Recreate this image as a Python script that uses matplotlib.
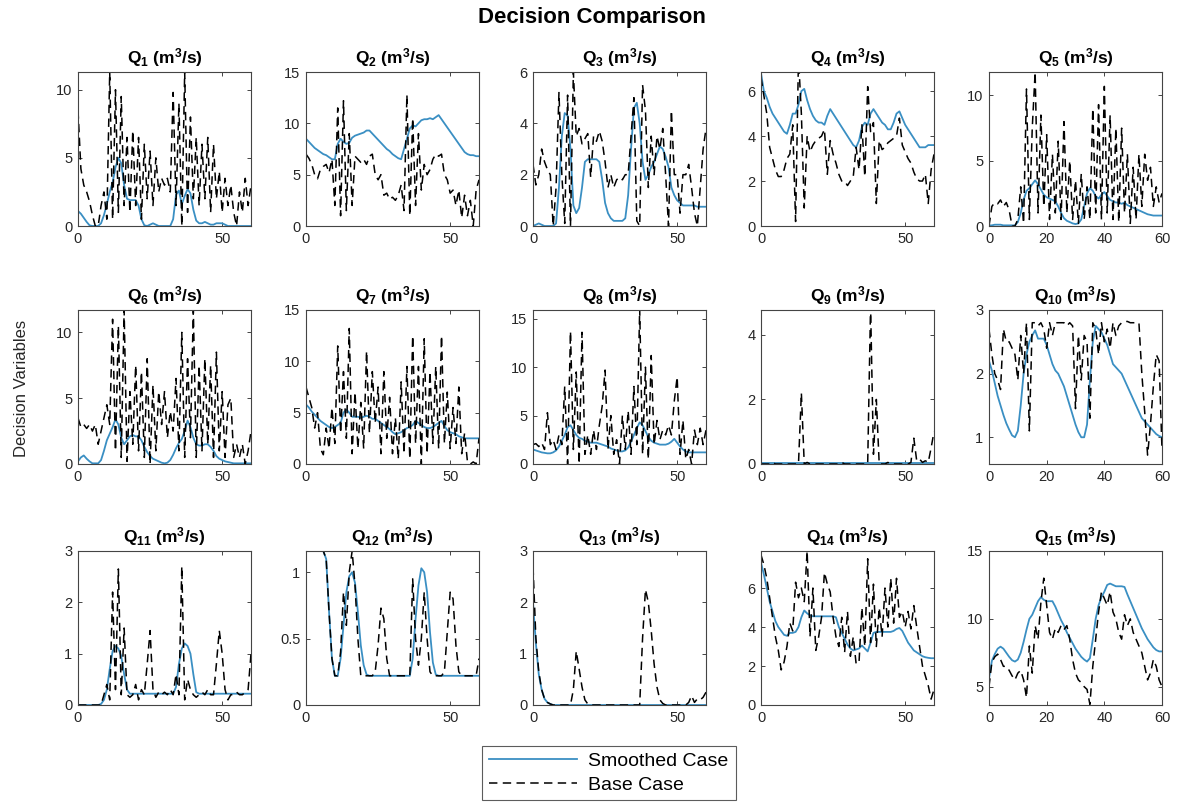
import matplotlib
matplotlib.use('Agg')
import matplotlib.pyplot as plt
from matplotlib.lines import Line2D

plt.rcParams['font.family'] = ['Liberation Sans', 'DejaVu Sans']
plt.rcParams['mathtext.fontset'] = 'custom'
plt.rcParams['mathtext.bf'] = 'Liberation Sans:bold'
plt.rcParams['mathtext.rm'] = 'Liberation Sans:bold'
plt.rcParams['mathtext.default'] = 'bf'

t = list(range(61))

# smoothed / base case decisions (t = 0..60)
q1_smooth = [1.1, 0.9, 0.6, 0.3, 0.05, 0, 0, 0, 0.2, 0.8,
             1.6, 2.5, 3.2, 4.3, 5.0, 4.6, 3.0, 2.0, 1.9, 1.9,
             1.9, 1.5, 0.5, 0.05, 0, 0.1, 0.2, 0.1, 0, 0,
             0, 0, 0, 0.5, 2.3, 2.6, 1.6, 2.2, 2.7, 2.4,
             1.2, 0.4, 0.2, 0.2, 0.3, 0.2, 0.1, 0.1, 0.2, 0.2,
             0.2, 0.1, 0, 0, 0, 0, 0, 0, 0, 0, 0]
q1_base = [8.5, 4.2, 3.0, 2.5, 1.8, 0.8, 0, 0, 1.5, 2.5,
           0.5, 11.3, 0.5, 10.0, 1.0, 9.5, 1.5, 6.5, 1.0, 7.0,
           1.5, 6.5, 0.5, 6.0, 2.0, 5.5, 1.5, 5.0, 2.5, 3.5,
           3.0, 3.5, 2.5, 9.8, 1.5, 9.0, 0, 11.3, 1.0, 8.0,
           2.0, 6.5, 1.5, 6.0, 2.0, 6.5, 1.0, 6.0, 2.0, 4.0,
           1.0, 3.5, 1.5, 3.0, 1.0, 0, 2.5, 1.0, 3.5, 1.5, 3.0]

q2_smooth = [8.5, 8.2, 7.9, 7.6, 7.4, 7.2, 7.0, 6.9, 6.7, 6.5,
             6.5, 8.0, 8.5, 8.2, 8.0, 8.1, 8.6, 8.8, 8.9, 9.0,
             9.1, 9.3, 9.3, 9.0, 8.7, 8.4, 8.1, 7.8, 7.5, 7.3,
             7.0, 6.8, 6.6, 6.5, 7.5, 8.5, 9.5, 9.8, 9.7, 10.0,
             10.3, 10.4, 10.4, 10.5, 10.4, 10.6, 10.8, 10.4, 10.0, 9.6,
             9.2, 8.8, 8.4, 8.0, 7.6, 7.2, 7.0, 6.9, 6.9, 6.8, 6.8]
q2_base = [7.0, 6.6, 6.0, 5.0, 4.6, 5.5, 5.8, 6.0, 5.2, 6.5,
           2.0, 11.5, 1.0, 12.2, 1.5, 9.0, 2.0, 6.8, 6.5, 6.2,
           6.5, 6.0, 6.8, 7.0, 5.0, 4.5, 5.0, 3.0, 3.2, 2.6,
           2.8, 2.5, 3.0, 4.0, 1.5, 12.8, 1.0, 10.5, 2.0, 9.0,
           3.5, 6.0, 5.0, 5.5, 6.5, 7.0, 6.8, 7.0, 5.0, 4.5,
           3.2, 3.5, 2.0, 3.5, 0.8, 3.0, 1.0, 2.5, 0.0, 3.5, 4.5]

q3_smooth = [0, 0.05, 0.1, 0.05, 0, 0, 0, 0, 0.1, 1.5,
             3.5, 4.4, 4.3, 3.0, 0.8, 0.5, 0.7, 1.5, 2.5, 2.6,
             2.6, 2.6, 2.6, 2.5, 1.8, 0.9, 0.5, 0.3, 0.2, 0.2,
             0.2, 0.2, 0.3, 1.2, 3.0, 4.6, 4.8, 4.0, 2.5, 1.8,
             2.0, 2.3, 2.5, 2.8, 3.1, 3.0, 2.7, 2.3, 1.5, 1.2,
             1.0, 0.9, 0.8, 0.8, 0.8, 0.8, 0.8, 0.75, 0.75, 0.75, 0.75]
q3_base = [2.4, 1.6, 2.0, 3.0, 2.5, 2.2, 2.0, 0.0, 1.5, 5.2,
           2.0, 0.1, 5.1, 0.0, 6.0, 3.5, 3.8, 3.2, 3.4, 3.6,
           1.9, 3.5, 3.3, 3.7, 3.3, 2.5, 1.5, 2.0, 1.5, 1.8,
           1.9, 1.8, 2.0, 2.0, 3.5, 5.0, 0.2, 0.0, 5.5, 4.5,
           1.5, 3.5, 2.0, 3.5, 3.0, 3.8, 2.0, 0.0, 4.5, 2.0,
           2.0, 0.5, 2.0, 2.0, 2.4, 1.5, 0.5, 0.0, 1.5, 3.0, 3.8]

q4_smooth = [6.8, 6.0, 5.7, 5.3, 5.0, 4.8, 4.6, 4.4, 4.2, 4.1,
             4.5, 5.0, 5.0, 5.4, 6.0, 6.1, 5.6, 5.2, 4.9, 4.7,
             4.6, 4.6, 4.5, 4.9, 5.2, 5.0, 4.8, 4.6, 4.4, 4.2,
             4.0, 3.8, 3.6, 3.5, 3.8, 4.4, 4.6, 4.5, 5.0, 5.2,
             5.0, 4.8, 4.6, 4.5, 4.3, 4.3, 4.6, 5.0, 5.1, 4.8,
             4.5, 4.3, 4.1, 3.9, 3.7, 3.5, 3.5, 3.5, 3.6, 3.6, 3.6]
q4_base = [6.6, 5.8, 5.0, 3.5, 3.0, 2.5, 2.2, 2.2, 2.5, 3.0,
           3.2, 4.5, 0.2, 7.5, 5.0, 0.8, 4.0, 3.3, 3.6, 3.8,
           3.9, 4.0, 4.3, 2.3, 3.8, 3.2, 2.8, 2.3, 2.0, 2.0,
           1.8, 2.0, 2.2, 3.5, 2.5, 4.5, 2.2, 6.2, 4.2, 4.6,
           1.0, 3.8, 3.4, 3.5, 3.7, 3.8, 3.9, 4.0, 4.8, 3.6,
           3.3, 3.0, 2.8, 2.4, 2.1, 2.0, 2.0, 2.3, 1.0, 2.5, 3.2]

q5_smooth = [0.05, 0.05, 0.1, 0.1, 0.1, 0.05, 0.05, 0.05, 0.05, 0.05,
             0.3, 1.0, 2.0, 2.7, 2.9, 3.2, 3.5, 3.2, 2.8, 2.4,
             2.2, 2.1, 2.0, 1.9, 1.5, 1.0, 0.6, 0.4, 0.3, 0.2,
             0.15, 0.2, 0.5, 1.5, 2.5, 2.9, 2.7, 2.3, 2.1, 2.4,
             2.6, 2.3, 2.0, 1.9, 1.8, 1.8, 1.7, 1.8, 1.6, 1.5,
             1.4, 1.3, 1.2, 1.1, 1.0, 0.9, 0.85, 0.8, 0.8, 0.8, 0.8]
q5_base = [0.0, 1.5, 1.8, 1.7, 2.0, 1.5, 1.8, 1.2, 0.0, 0.0,
           0.5, 3.0, 0.2, 10.5, 0.5, 7.5, 11.8, 1.0, 8.5, 1.5,
           7.0, 0.5, 5.5, 1.0, 6.5, 0.5, 8.0, 1.0, 5.0, 0.5,
           3.5, 0.2, 4.0, 0.5, 3.0, 0.5, 9.0, 1.0, 9.3, 0.5,
           10.7, 1.0, 8.5, 0.5, 7.5, 0.3, 7.5, 1.0, 5.5, 0.2,
           4.5, 0.5, 5.5, 1.5, 5.5, 3.5, 4.5, 1.5, 3.0, 1.8, 2.5]

q6_smooth = [0.2, 0.5, 0.65, 0.4, 0.2, 0.05, 0.05, 0.05, 0.3, 1.0,
             1.8, 2.3, 2.8, 3.4, 3.0, 2.0, 1.5, 1.8, 2.1, 2.2,
             2.1, 2.1, 1.8, 1.3, 0.9, 0.6, 0.4, 0.3, 0.2, 0.1,
             0.05, 0.1, 0.3, 0.7, 1.2, 1.6, 1.9, 2.5, 3.3, 2.8,
             2.0, 1.5, 1.4, 1.4, 1.5, 1.5, 1.3, 1.0, 0.6, 0.4,
             0.3, 0.2, 0.15, 0.1, 0.05, 0.05, 0.05, 0.05, 0.05, 0.05, 0.05]
q6_base = [3.5, 2.8, 3.0, 2.7, 3.0, 2.5, 3.0, 1.5, 2.5, 3.5,
           4.5, 3.0, 11.0, 1.0, 10.5, 0.5, 11.7, 0.2, 5.5, 1.5,
           7.5, 1.0, 7.0, 0.5, 8.0, 0.0, 6.0, 1.0, 5.5, 3.0,
           5.5, 2.0, 4.0, 2.5, 6.5, 1.0, 10.0, 0.5, 8.0, 2.0,
           11.7, 0.5, 7.5, 1.0, 8.0, 1.5, 7.5, 0.5, 8.5, 1.0,
           5.5, 0.5, 4.5, 5.0, 0.5, 1.5, 0.5, 1.5, 0.0, 1.0, 2.5]

q7_smooth = [5.8, 5.5, 5.1, 4.8, 4.5, 4.2, 4.0, 3.8, 3.6, 3.5,
             3.6, 3.8, 4.0, 5.0, 5.3, 5.0, 4.6, 4.6, 4.6, 4.5,
             4.6, 4.7, 4.6, 4.4, 4.4, 4.2, 4.0, 3.8, 3.6, 3.4,
             3.1, 2.9, 3.0, 3.1, 3.3, 3.5, 3.6, 3.8, 4.2, 4.0,
             3.8, 3.6, 3.5, 3.5, 3.6, 3.8, 4.0, 4.2, 3.7, 3.3,
             3.1, 3.0, 2.9, 2.7, 2.6, 2.5, 2.5, 2.5, 2.5, 2.5, 2.5]
q7_base = [7.5, 6.5, 5.5, 3.5, 5.0, 1.5, 0.9, 3.5, 1.5, 5.5,
           2.0, 11.5, 3.0, 9.0, 2.5, 13.2, 1.0, 7.0, 1.5, 6.0,
           1.5, 11.0, 3.0, 9.0, 4.0, 7.5, 1.0, 9.0, 2.5, 6.5,
           1.0, 4.5, 0.5, 8.0, 1.0, 9.5, 0.5, 12.5, 2.0, 9.5,
           0.0, 12.2, 1.0, 9.0, 2.0, 9.5, 1.5, 12.5, 2.0, 7.0,
           1.5, 5.5, 2.0, 7.5, 1.0, 3.0, 0.2, 0.0, 0.2, 0.0, 2.5]

q8_smooth = [1.5, 1.4, 1.3, 1.2, 1.15, 1.1, 1.1, 1.2, 1.4, 1.8,
             2.4, 3.0, 3.8, 4.0, 3.5, 3.0, 2.7, 2.6, 2.4, 2.3,
             2.2, 2.2, 2.2, 2.1, 2.0, 1.9, 1.8, 1.6, 1.5, 1.4,
             1.3, 1.3, 1.4, 1.7, 2.3, 3.0, 3.7, 4.3, 4.0, 3.4,
             2.8, 2.4, 2.2, 2.1, 2.0, 2.0, 2.0, 2.1, 2.3, 2.6,
             2.2, 1.8, 1.5, 1.3, 1.2, 1.2, 1.2, 1.2, 1.2, 1.2, 1.2]
q8_base = [2.0, 2.1, 1.8, 2.2, 1.5, 5.3, 2.0, 2.5, 1.5, 3.0,
           2.0, 8.0, 0.0, 13.7, 1.5, 9.5, 0.0, 13.6, 1.0, 3.0,
           1.0, 3.5, 1.5, 4.0, 6.0, 9.7, 1.5, 5.0, 1.0, 2.5,
           0.0, 5.0, 1.5, 5.5, 1.0, 8.0, 2.0, 16.0, 1.0, 10.0,
           0.5, 11.2, 2.0, 4.5, 2.5, 3.5, 3.0, 4.0, 3.0, 6.5,
           9.0, 1.0, 4.5, 0.5, 1.5, 0.0, 3.5, 2.0, 3.7, 2.0, 3.5]

q9_smooth = [0.02, 0.02, 0.02, 0.02, 0.02, 0.02, 0.02, 0.02, 0.02, 0.02,
             0.02, 0.02, 0.02, 0.02, 0.02, 0.02, 0.02, 0.02, 0.02, 0.02,
             0.02, 0.02, 0.02, 0.02, 0.02, 0.02, 0.02, 0.02, 0.02, 0.02,
             0.02, 0.02, 0.02, 0.02, 0.02, 0.02, 0.02, 0.02, 0.02, 0.02,
             0.02, 0.02, 0.02, 0.02, 0.02, 0.02, 0.02, 0.02, 0.02, 0.02,
             0.02, 0.02, 0.02, 0.02, 0.02, 0.02, 0.02, 0.02, 0.02, 0.02, 0.02]
q9_base = [0, 0, 0, 0, 0.05, 0, 0, 0, 0, 0,
           0, 0, 0, 0, 2.2, 0, 0.05, 0, 0, 0,
           0, 0, 0, 0, 0, 0, 0, 0, 0.05, 0,
           0, 0, 0, 0, 0, 0, 0, 0, 4.9, 0.3,
           2.0, 0, 0, 0, 0.05, 0, 0, 0, 0, 0,
           0, 0, 0.05, 0.8, 0.1, 0.15, 0.05, 0.1, 0.05, 0.5, 1.0]

q10_smooth = [2.2, 2.05, 1.85, 1.65, 1.5, 1.35, 1.22, 1.12, 1.03, 1.0,
              1.1, 1.5, 2.0, 2.3, 2.5, 2.6, 2.68, 2.55, 2.55, 2.55,
              2.45, 2.3, 2.15, 2.05, 2.0, 1.9, 1.8, 1.65, 1.5, 1.35,
              1.2, 1.08, 1.0, 1.0, 1.2, 1.9, 2.5, 2.75, 2.7, 2.65,
              2.55, 2.45, 2.3, 2.15, 2.1, 2.05, 2.0, 1.9, 1.8, 1.7,
              1.6, 1.5, 1.4, 1.3, 1.25, 1.2, 1.15, 1.1, 1.05, 1.02, 1.0]
q10_base = [2.7, 2.3, 2.0, 1.9, 1.75, 2.7, 2.5, 2.5, 2.4, 2.3,
            1.9, 2.6, 2.0, 2.8, 1.1, 2.8, 2.8, 2.75, 2.8, 2.7,
            2.4, 2.8, 2.6, 2.8, 2.8, 2.8, 2.8, 2.75, 2.8, 2.75,
            1.45, 2.6, 1.9, 2.6, 2.5, 1.3, 2.8, 2.7, 2.3, 2.8,
            2.5, 2.7, 2.4, 2.8, 2.6, 2.75, 2.8, 2.82, 2.82, 2.8,
            2.8, 2.8, 2.8, 2.0, 1.4, 0.72, 1.2, 1.8, 2.3, 2.2, 0.8]

q11_smooth = [0, 0, 0, 0, 0, 0, 0, 0, 0.02, 0.1,
              0.3, 0.7, 1.05, 1.15, 1.1, 0.95, 0.6, 0.3, 0.22, 0.22,
              0.22, 0.22, 0.22, 0.22, 0.22, 0.22, 0.22, 0.22, 0.22, 0.22,
              0.22, 0.22, 0.22, 0.22, 0.35, 0.8, 1.1, 1.2, 1.15, 1.0,
              0.6, 0.25, 0.22, 0.22, 0.22, 0.22, 0.22, 0.22, 0.22, 0.22,
              0.22, 0.22, 0.22, 0.22, 0.22, 0.22, 0.22, 0.22, 0.22, 0.22, 0.22]
q11_base = [0, 0, 0, 0, 0, 0, 0, 0, 0, 0.2,
            0.4, 0.1, 2.2, 0.3, 2.65, 0.2, 1.5, 0.2, 0.15, 0.2,
            0.4, 0.1, 0.3, 0.2, 0.8, 1.45, 0.3, 0.15, 0.25, 0.2,
            0.25, 0.2, 0.3, 0.2, 0.6, 0.2, 2.7, 0.1, 0.5, 0.3,
            0.2, 0.15, 0.2, 0.25, 0.2, 0.3, 0.2, 0.2, 0.8, 1.45,
            1.0, 0.3, 0.1, 0.2, 0.2, 0.25, 0.2, 0.2, 0.25, 0.3, 1.0]

q12_smooth = [1.16, 1.16, 1.16, 1.16, 1.16, 1.16, 1.16, 1.1, 0.7, 0.35,
              0.22, 0.22, 0.35, 0.6, 0.85, 0.97, 1.0, 0.92, 0.7, 0.45,
              0.3, 0.23, 0.22, 0.22, 0.22, 0.22, 0.22, 0.22, 0.22, 0.22,
              0.22, 0.22, 0.22, 0.22, 0.22, 0.22, 0.22, 0.35, 0.65, 0.9,
              1.03, 1.0, 0.85, 0.55, 0.32, 0.23, 0.22, 0.22, 0.22, 0.22,
              0.22, 0.22, 0.22, 0.22, 0.22, 0.22, 0.22, 0.22, 0.22, 0.22, 0.22]
q12_base = [1.16, 1.16, 1.16, 1.16, 1.16, 1.16, 1.16, 1.1, 0.7, 0.35,
            0.22, 0.22, 0.4, 0.85, 0.6, 1.0, 1.16, 0.9, 0.5, 0.22,
            0.22, 0.22, 0.22, 0.22, 0.25, 0.45, 0.73, 0.65, 0.35, 0.22,
            0.22, 0.22, 0.22, 0.22, 0.22, 0.22, 0.22, 0.95, 0.5, 0.3,
            0.5, 0.85, 0.5, 0.25, 0.22, 0.22, 0.22, 0.22, 0.25, 0.55,
            0.85, 0.8, 0.45, 0.25, 0.22, 0.22, 0.22, 0.22, 0.22, 0.22, 0.35]

q13_smooth = [2.0, 1.2, 0.6, 0.3, 0.12, 0.05, 0.02, 0, 0, 0,
              0, 0, 0, 0, 0, 0, 0, 0, 0, 0,
              0, 0, 0, 0, 0, 0, 0, 0, 0, 0,
              0, 0, 0, 0, 0, 0, 0, 0, 0, 0,
              0, 0, 0, 0, 0, 0, 0, 0, 0, 0,
              0, 0, 0, 0, 0, 0, 0, 0, 0, 0, 0]
q13_base = [2.7, 1.3, 0.65, 0.3, 0.12, 0.05, 0.02, 0, 0, 0,
            0, 0, 0, 0, 0.3, 1.05, 0.7, 0.35, 0.1, 0.02,
            0, 0, 0, 0, 0, 0, 0, 0, 0, 0,
            0, 0, 0, 0, 0, 0, 0, 0, 1.3, 2.25,
            2.0, 1.45, 0.8, 0.35, 0.1, 0.03, 0, 0, 0, 0,
            0, 0, 0, 0, 0.05, 0.18, 0.05, 0.12, 0.1, 0.15, 0.25]

q14_smooth = [7.3, 6.7, 6.0, 5.3, 4.8, 4.3, 4.0, 3.8, 3.6, 3.55,
              3.7, 3.7, 3.75, 4.0, 4.5, 4.85, 4.7, 4.6, 4.55, 4.55,
              4.55, 4.55, 4.55, 4.55, 4.55, 4.55, 4.5, 4.0, 3.7, 3.4,
              3.1, 2.9, 2.8, 2.85, 2.9, 3.05, 2.9, 2.75, 3.2, 3.7,
              3.75, 3.75, 3.75, 3.75, 3.75, 3.75, 3.8, 3.9, 3.95, 3.8,
              3.5, 3.2, 3.0, 2.8, 2.7, 2.6, 2.5, 2.45, 2.42, 2.4, 2.4]
q14_base = [7.7, 7.2, 6.5, 5.5, 4.5, 3.5, 2.8, 1.8, 2.2, 3.0,
            4.2, 3.8, 6.3, 5.5, 6.0, 5.3, 7.9, 3.5, 6.0, 2.8,
            3.5, 4.5, 6.8, 6.2, 5.8, 4.5, 3.5, 3.0, 4.5, 2.7,
            4.8, 2.5, 3.5, 2.1, 2.2, 5.0, 3.0, 7.5, 3.2, 6.2,
            3.0, 5.0, 3.5, 6.0, 4.0, 6.5, 4.2, 6.5, 4.5, 4.8,
            4.0, 4.8, 3.9, 5.1, 4.0, 3.0, 2.0, 1.5, 1.0, 0.3, 0.8]

q15_smooth = [5.6, 6.9, 7.4, 7.8, 7.95, 7.8, 7.5, 7.2, 6.95, 6.85,
              7.0, 7.5, 8.3, 9.2, 10.0, 10.3, 10.8, 11.3, 11.6, 11.4,
              11.3, 11.3, 11.3, 10.9, 10.4, 9.9, 9.5, 9.0, 8.6, 8.2,
              7.8, 7.5, 7.2, 7.0, 6.85, 7.1, 8.5, 10.0, 11.0, 11.6,
              12.0, 12.5, 12.6, 12.5, 12.4, 12.4, 12.4, 12.35, 11.8, 11.3,
              10.8, 10.3, 9.8, 9.3, 8.9, 8.5, 8.2, 7.9, 7.7, 7.6, 7.6]
q15_base = [5.0, 6.8, 7.2, 7.4, 7.0, 6.5, 6.5, 6.2, 5.8, 5.5,
            6.0, 6.2, 5.5, 4.2, 8.0, 6.0, 9.5, 8.5, 11.2, 13.0,
            11.0, 9.0, 8.5, 9.3, 9.0, 9.5, 9.2, 9.5, 8.5, 7.0,
            6.0, 5.5, 5.3, 5.0, 4.8, 3.7, 6.5, 8.5, 10.5, 12.0,
            11.5, 11.0, 12.0, 10.5, 10.0, 9.0, 8.5, 10.3, 9.5, 10.0,
            9.0, 8.5, 8.0, 7.5, 6.5, 5.5, 6.0, 7.0, 6.5, 5.5, 5.0]

smooth_all = [q1_smooth, q2_smooth, q3_smooth, q4_smooth, q5_smooth,
              q6_smooth, q7_smooth, q8_smooth, q9_smooth, q10_smooth,
              q11_smooth, q12_smooth, q13_smooth, q14_smooth, q15_smooth]
base_all = [q1_base, q2_base, q3_base, q4_base, q5_base,
            q6_base, q7_base, q8_base, q9_base, q10_base,
            q11_base, q12_base, q13_base, q14_base, q15_base]

ylims = [(0, 11.3), (0, 15), (0, 6), (0, 6.85), (0, 11.8),
         (0, 11.7), (0, 15), (0, 15.9), (0, 4.77), (0.58, 3),
         (0, 3), (0, 1.16), (0, 3), (0, 7.9), (3.65, 15)]
yticks = [[0, 5, 10], [0, 5, 10, 15], [0, 2, 4, 6], [0, 2, 4, 6], [0, 5, 10],
          [0, 5, 10], [0, 5, 10, 15], [0, 5, 10, 15], [0, 2, 4], [1, 2, 3],
          [0, 1, 2, 3], [0, 0.5, 1], [0, 1, 2, 3], [0, 2, 4, 6], [5, 10, 15]]

W, H = 1183, 808
fig = plt.figure(figsize=(W / 100, H / 100), dpi=100)

lefts = [78, 306, 533, 761, 989]
tops = [72, 310, 551]
aw, ah = 173, 154

blue = '#3a8fc3'
tick_col = '#262626'

for k in range(15):
    r, c = k // 5, k % 5
    ax = fig.add_axes([lefts[c] / W, 1 - (tops[r] + ah) / H, aw / W, ah / H])
    ax.plot(t, smooth_all[k], color=blue, lw=1.3)
    ax.plot(t, base_all[k], color='black', lw=1.1, dashes=(5.5, 3.5))
    ax.set_xlim(0, 60)
    ax.set_ylim(*ylims[k])
    ax.set_yticks(yticks[k])
    if k == 11:
        ax.set_yticklabels(['0', '0.5', '1'])
    if c == 4:
        ax.set_xticks([0, 20, 40, 60])
    else:
        ax.set_xticks([0, 50])
    ax.tick_params(direction='in', length=3, width=0.6, top=True, right=True,
                   labelsize=10.5, colors=tick_col, pad=4)
    for s in ax.spines.values():
        s.set_color('#444444')
        s.set_linewidth(0.8)
    ax.set_title('Q$_{%d}$ (m$^{3}$/s)' % (k + 1), fontsize=12.5,
                 fontweight='bold', pad=6)

fig.text(0.5, 1 - 18 / H, 'Decision Comparison', ha='center', va='center',
         fontsize=16, fontweight='bold')
fig.text(22 / W, 1 - 388 / H, 'Decision Variables', rotation=90,
         ha='center', va='center', fontsize=12, color=tick_col)

handles = [Line2D([], [], color=blue, lw=1.3),
           Line2D([], [], color='black', lw=1.1, dashes=(5.5, 3.5))]
leg = fig.legend(handles, ['Smoothed Case', 'Base Case'], loc='center',
                 bbox_to_anchor=(609 / W, 1 - 773 / H), fontsize=14,
                 frameon=True, fancybox=False, handlelength=4.5,
                 borderpad=0.35, labelspacing=0.3, handletextpad=0.6)
leg.get_frame().set_edgecolor('#333333')
leg.get_frame().set_linewidth(0.8)

fig.savefig('out.png', dpi=100)
